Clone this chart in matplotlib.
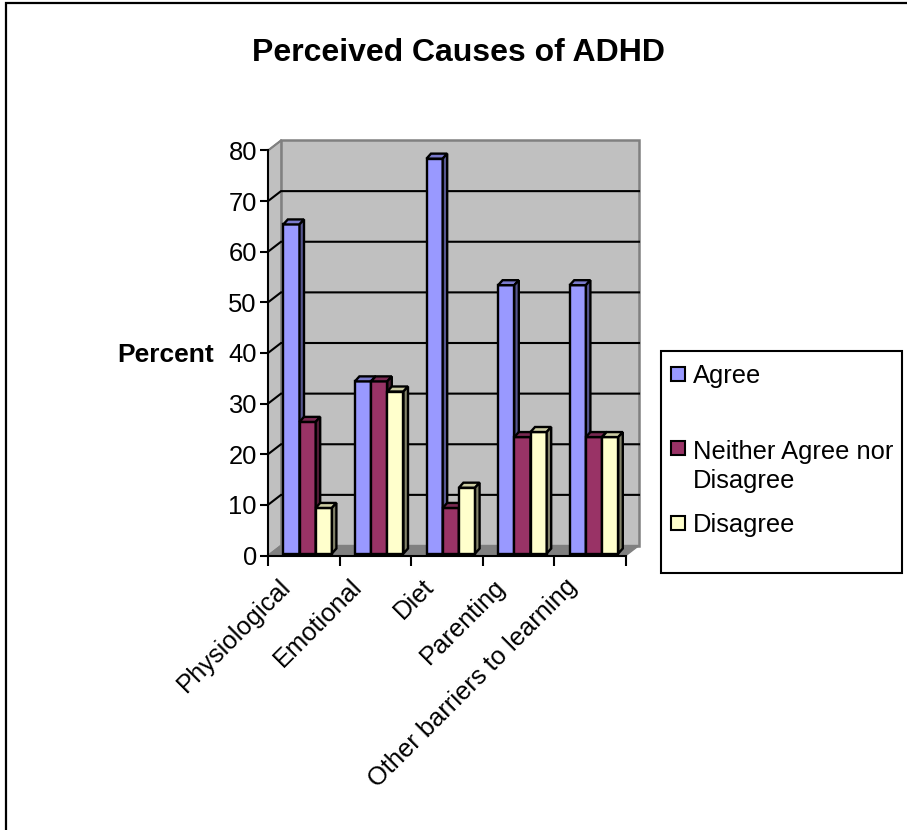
import matplotlib
matplotlib.use("Agg")
import matplotlib.pyplot as plt
from matplotlib.lines import Line2D
from matplotlib.patches import Polygon, Rectangle

plt.rcParams['font.family'] = ['Liberation Sans', 'DejaVu Sans']

categories = ['Physiological', 'Emotional', 'Diet', 'Parenting', 'Other barriers to learning']
agree = [65, 34, 78, 53, 53]
neither = [26, 34, 9, 23, 23]
disagree = [9, 32, 13, 24, 23]
series_names = ['Agree', 'Neither Agree nor\nDisagree', 'Disagree']
yticks = list(range(0, 81, 10))

W, H = 907, 830
L, R, B, T = 268, 626, 555.5, 150.5
FS = 18.4
fig = plt.figure(figsize=(W / 100, H / 100), dpi=100, facecolor='white')
ax = fig.add_axes([L / W, 1 - B / H, (R - L) / W, (B - T) / H])
ax.set_xlim(0, 5)
ax.set_ylim(0, 80)
ax.patch.set_visible(False)

px = 5 / (R - L)
py = 80 / (B - T)
DX, DY = 13 * px, 10 * py          # wall depth
dx, dy = 4.5 * px, 5 * py          # bar depth
bw = 16.2 * px
start = 15.3 * px
base = 2 * py                      # bars stand slightly behind the front plane

# walls
wall_kw = dict(clip_on=False, zorder=1)
ax.add_patch(Polygon([(DX, DY), (5 + DX, DY), (5 + DX, 80 + DY), (DX, 80 + DY)],
                     fc='#C0C0C0', ec='#808080', lw=1.8, **wall_kw))
ax.add_patch(Polygon([(0, 0), (DX, DY), (DX, 80 + DY), (0, 80)],
                     fc='#C0C0C0', ec='#808080', lw=1.2, **wall_kw))
ax.add_patch(Polygon([(0, 0), (5, 0), (5 + DX, DY), (DX, DY)],
                     fc='#808080', ec='#808080', lw=1, **wall_kw))
for v in yticks[1:-1]:
    ax.plot([0, DX, 5 + DX], [v, v + DY, v + DY], color='black', lw=1.5,
            clip_on=False, zorder=2, solid_joinstyle='miter')
ax.plot([0, DX], [80, 80 + DY], color='#808080', lw=1.5, clip_on=False, zorder=2)

# bars
face = ['#9999FF', '#993366', '#FFFFCC']
top = ['#7A7ACC', '#7A2952', '#CCCCA3']
side = ['#565690', '#4F1B35', '#83836A']
for s, values in enumerate([agree, neither, disagree]):
    xs = [i + start + s * bw for i in range(len(categories))]
    ax.bar(xs, values, width=bw, bottom=base, align='edge', color=face[s], edgecolor='black',
           linewidth=1.7, zorder=3 + s, clip_on=False)
    for x, val in zip(xs, values):
        v = val + base
        ax.add_patch(Polygon([(x, v), (x + bw, v), (x + bw + dx, v + dy), (x + dx, v + dy)],
                             fc=top[s], ec='black', lw=1.7, zorder=3 + s, clip_on=False))
        ax.add_patch(Polygon([(x + bw, base), (x + bw + dx, base + dy), (x + bw + dx, v + dy), (x + bw, v)],
                             fc=side[s], ec='black', lw=1.7, zorder=3 + s, clip_on=False))

# axes
for sp in ['top', 'right']:
    ax.spines[sp].set_visible(False)
for sp in ['left', 'bottom']:
    ax.spines[sp].set_linewidth(1.5)
    ax.spines[sp].set_zorder(10)
ax.set_yticks(yticks)
ax.set_yticklabels([str(v) for v in yticks], fontsize=FS)
ax.tick_params(axis='y', length=6, width=1.5, pad=2)
ax.set_xticks(range(6))
ax.set_xticklabels([])
ax.tick_params(axis='x', length=7, width=1.5)
for i, c in enumerate(categories):
    ax.annotate(c, xy=(i + 0.5, 0), xycoords='data', xytext=(-18.5, -13.5), textcoords='offset points',
                rotation=45, rotation_mode='anchor', ha='right', va='top', fontsize=FS)

fig.text(166 / W, 1 - 355 / H, 'Percent', fontsize=19, fontweight='bold', ha='center', va='center')
fig.text(458 / W, 1 - 53 / H, 'Perceived Causes of ADHD', fontsize=23, fontweight='bold',
         ha='center', va='center')

# frame: only the top and left edges are visible in the picture
fig.add_artist(Line2D([6.3 / W, 6.3 / W, 1], [0, 1 - 3 / H, 1 - 3 / H], transform=fig.transFigure,
                      color='black', lw=1.6, solid_joinstyle='miter'))
# legend
fig.add_artist(Rectangle((661 / W, 1 - 573 / H), 241 / W, 222 / H, transform=fig.transFigure,
                         fc='white', ec='black', lw=1.5, zorder=20))
for name, c, ypx, ytext in zip(series_names, face, [374, 448.5, 522.5], [376, 466.5, 525]):
    fig.add_artist(Rectangle((671 / W, 1 - (ypx + 7) / H), 14 / W, 14 / H, transform=fig.transFigure,
                             fc=c, ec='black', lw=1.5, zorder=21))
    t = fig.text(693 / W, 1 - ytext / H, name, fontsize=FS, ha='left', va='center',
                 linespacing=1.27, zorder=21)

fig.savefig('out.png', dpi=100)
